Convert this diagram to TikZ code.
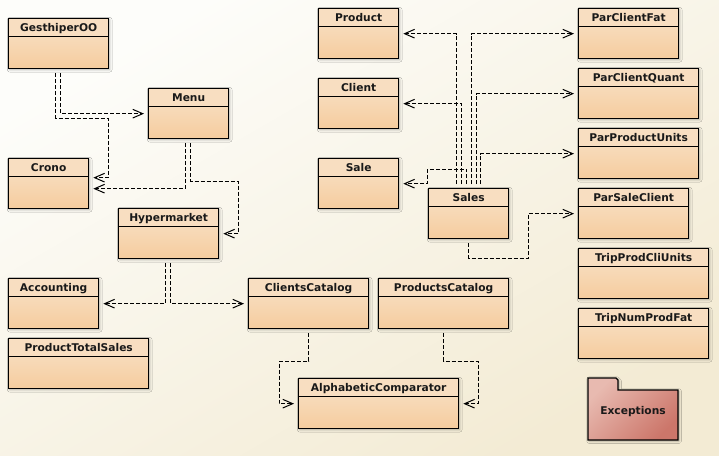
\documentclass[tikz,border=0pt]{standalone}
\usepackage{fontspec}
\newfontfamily\umlfont{DejaVu Sans}
\usetikzlibrary{arrows.meta}
\usetikzlibrary{calc}
\usetikzlibrary{shadows.blur}

\definecolor{bgtop}{RGB}{253,253,250}
\definecolor{bgbot}{RGB}{243,235,212}
\definecolor{headfill}{RGB}{248,222,193}
\definecolor{bodytop}{RGB}{249,227,202}
\definecolor{bodybot}{RGB}{245,204,158}
\definecolor{foldtop}{RGB}{232,186,176}
\definecolor{foldbot}{RGB}{204,118,106}

\tikzset{
  classbox/.style={draw=black, line width=1pt, anchor=north west, inner sep=0pt,
    minimum width=#1*0.75pt, text height=9.75pt, text depth=27.75pt,
    top color=bodytop, bottom color=bodybot,
    font=\umlfont\bfseries\fontsize{8}{9}\selectfont, text=black!90,
    blur shadow={shadow xshift=0.8pt, shadow yshift=-0.8pt, shadow blur steps=4, shadow opacity=30},
    path picture={
      \fill[headfill] (path picture bounding box.north west) rectangle ($(path picture bounding box.north east)!0.36!(path picture bounding box.south east)$);
      \draw[line width=0.8pt] ($(path picture bounding box.north west)!0.36!(path picture bounding box.south west)$) -- ($(path picture bounding box.north east)!0.36!(path picture bounding box.south east)$);
    }},
  dep/.style={dash pattern=on 3pt off 1.5pt, line width=0.75pt, -{Straight Barb[length=7.5pt,width=6.5pt]}, shorten >=3pt, shorten <=3pt}
}

\begin{document}
\begin{tikzpicture}[x=0.75pt,y=0.75pt,yscale=-1,xscale=1]
	\useasboundingbox (0,0) rectangle (719,455);
	%Background
	\shade[top color=bgtop, bottom color=bgbot, shading angle=30] (0,0) rectangle (719,455);

	%Classes left
	\node[classbox=100] (gesthiper) at (8,18) {GesthiperOO};
	\node[classbox=80] (menu) at (148,88) {Menu};
	\node[classbox=80] (crono) at (8,158) {Crono};
	\node[classbox=100] (hyper) at (118,208) {Hypermarket};
	\node[classbox=90] (accounting) at (8,278) {Accounting};
	\node[classbox=140] (prodtotal) at (8,338) {ProductTotalSales};
	\node[classbox=120] (clientscat) at (248,278) {ClientsCatalog};
	\node[classbox=130] (productscat) at (378,278) {ProductsCatalog};
	\node[classbox=160] (alphacomp) at (298,378) {AlphabeticComparator};

	%Classes right
	\node[classbox=80] (product) at (318,8) {Product};
	\node[classbox=80] (client) at (318,78) {Client};
	\node[classbox=80] (sale) at (318,158) {Sale};
	\node[classbox=80] (sales) at (428,188) {Sales};
	\node[classbox=100] (parclifat) at (578,8) {ParClientFat};
	\node[classbox=120] (parcliquant) at (578,68) {ParClientQuant};
	\node[classbox=120] (parprodunits) at (578,128) {ParProductUnits};
	\node[classbox=110] (parsalecli) at (578,188) {ParSaleClient};
	\node[classbox=130] (tripprodcli) at (578,248) {TripProdCliUnits};
	\node[classbox=130] (tripnumprod) at (578,308) {TripNumProdFat};

	%Shape: Folder
	\draw[line width=1pt, top color=foldtop, bottom color=foldbot, shading angle=45,
	  blur shadow={shadow xshift=0.8pt, shadow yshift=-0.8pt, shadow blur steps=4, shadow opacity=30}]
	  (588,440) -- (588,378) -- (616,378) -- (618,380) -- (618,390) -- (678,390) -- (678,440) -- cycle ;
	% Text Node
	\node[font=\umlfont\bfseries\fontsize{8}{9}\selectfont, text=black!90] (exceptions) at (633,412) {Exceptions};

	%Dependencies left
	\draw[dep] ($(gesthiper.south)+(2,0)$) |- (menu.west);
	\draw[dep] ($(gesthiper.south)+(-3,0)$) -- ++(0,49) -| ($(crono.east)+(19,-6)$) -- ($(crono.east)+(0,-6)$);
	\draw[dep] ($(menu.south)+(-3,0)$) |- ($(crono.east)+(0,5)$);
	\draw[dep] ($(menu.south)+(2,0)$) -- ++(0,42) -| ($(hyper.east)+(19,0)$) -- (hyper.east);
	\draw[dep] ($(hyper.south)+(-3,0)$) |- (accounting.east);
	\draw[dep] ($(hyper.south)+(2,0)$) |- (clientscat.west);
	\draw[dep] (clientscat.south) -- ++(0,32) -| ($(alphacomp.west)+(-19,0)$) -- (alphacomp.west);
	\draw[dep] (productscat.south) -- ++(0,32) -| ($(alphacomp.east)+(19,0)$) -- (alphacomp.east);

	%Dependencies of Sales
	\draw[dep] ($(sales.north)+(-12,0)$) |- (product.east);
	\draw[dep] ($(sales.north)+(-7,0)$) |- (client.east);
	\draw[dep] ($(sales.north)+(-2,0)$) -- ++(0,-19) -| ($(sale.east)+(28,0)$) -- (sale.east);
	\draw[dep] ($(sales.north)+(3,0)$) |- (parclifat.west);
	\draw[dep] ($(sales.north)+(8,0)$) |- (parcliquant.west);
	\draw[dep] ($(sales.north)+(12,0)$) |- (parprodunits.west);
	\draw[dep] (sales.south) -- ++(0,19) -| ($(parsalecli.west)+(-50,0)$) -- (parsalecli.west);
\end{tikzpicture}
\end{document}
